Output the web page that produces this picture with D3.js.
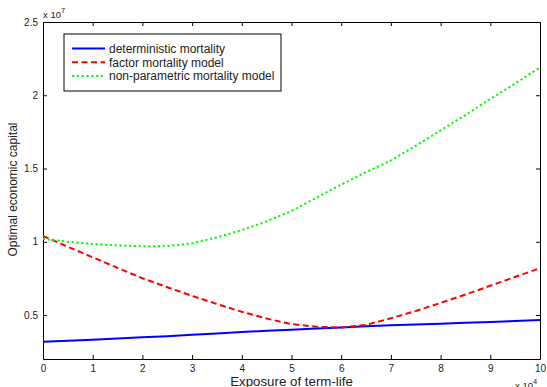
<!DOCTYPE html>
<html>
<head>
<meta charset="utf-8">
<script src="https://cdn.jsdelivr.net/npm/d3@7"></script>
<style>
  body { margin: 0; background: #fff; }
  svg text { font-family: "Liberation Sans", Arial, sans-serif; fill: #222; }
</style>
</head>
<body>
<div id="chart"></div>
<script>
// exposure (x 10^4) and capital (x 10^7)
const exposure = [0, 0.5, 1, 1.5, 2, 2.5, 3, 3.5, 4, 4.5, 5, 5.5, 6, 6.5, 7, 7.5, 8, 8.5, 9, 9.5, 10];
const deterministic = [0.318, 0.325, 0.332, 0.340, 0.348, 0.356, 0.365, 0.374, 0.384, 0.392, 0.400, 0.408, 0.415, 0.423, 0.430, 0.436, 0.441, 0.447, 0.453, 0.459, 0.467];
const factorModel = [1.04, 0.966, 0.894, 0.822, 0.751, 0.690, 0.631, 0.575, 0.522, 0.476, 0.438, 0.420, 0.415, 0.433, 0.478, 0.528, 0.583, 0.640, 0.700, 0.760, 0.820];
const nonParametric = [1.02, 1.00, 0.985, 0.975, 0.970, 0.970, 0.990, 1.030, 1.080, 1.140, 1.210, 1.300, 1.390, 1.475, 1.555, 1.655, 1.760, 1.865, 1.975, 2.080, 2.190];

const xTicks = [0, 1, 2, 3, 4, 5, 6, 7, 8, 9, 10];
const xTickLabels = ['0', '1', '2', '3', '4', '5', '6', '7', '8', '9', '10'];
const yTicks = [0.5, 1, 1.5, 2, 2.5];
const yTickLabels = ['0.5', '1', '1.5', '2', '2.5'];

const seriesNames = ['deterministic mortality', 'factor mortality model', 'non-parametric mortality model'];
const series = [
  { name: seriesNames[0], values: deterministic, color: '#0000ff', dash: null },
  { name: seriesNames[1], values: factorModel, color: '#ff0000', dash: '6,3.5' },
  { name: seriesNames[2], values: nonParametric, color: '#00ff00', dash: '2.2,2.6' },
];

const W = 547, H = 387;
const margin = { top: 22, right: 7, bottom: 28, left: 43 };
const width = W - margin.left - margin.right;
const height = H - margin.top - margin.bottom;

const svg = d3.select('#chart').append('svg')
  .attr('width', W)
  .attr('height', H);

const g = svg.append('g')
  .attr('transform', `translate(${margin.left},${margin.top})`);

const x = d3.scaleLinear().domain([0, 10]).range([0, width]);
const y = d3.scaleLinear().domain([0.2, 2.5]).range([height, 0]);

// Axes, matlab style box with inward ticks
const fmt = (labels, ticks) => (d) => labels[ticks.indexOf(d)];

g.append('g')
  .attr('transform', `translate(0,${height})`)
  .call(d3.axisBottom(x).tickValues(xTicks).tickFormat(fmt(xTickLabels, xTicks))
    .tickSizeInner(-4).tickSizeOuter(0).tickPadding(6));

g.append('g')
  .call(d3.axisLeft(y).tickValues(yTicks).tickFormat(fmt(yTickLabels, yTicks))
    .tickSizeInner(-4).tickSizeOuter(0).tickPadding(5));

g.append('g')
  .call(d3.axisTop(x).tickValues(xTicks).tickFormat('').tickSizeInner(-4).tickSizeOuter(0));

g.append('g')
  .attr('transform', `translate(${width},0)`)
  .call(d3.axisRight(y).tickValues(yTicks).tickFormat('').tickSizeInner(-4).tickSizeOuter(0));

g.selectAll('.domain').attr('stroke', '#000').attr('stroke-width', 1);
g.selectAll('.tick line').attr('stroke', '#000');
g.selectAll('.tick text').style('font-size', '10px').attr('fill', '#222');

// Lines
const line = d3.line()
  .x((d, i) => x(exposure[i]))
  .y(d => y(d));

g.selectAll('.series')
  .data(series)
  .enter()
  .append('path')
  .attr('class', 'series')
  .attr('fill', 'none')
  .attr('stroke', d => d.color)
  .attr('stroke-width', 2)
  .attr('stroke-dasharray', d => d.dash)
  .attr('d', d => line(d.values));

// Legend
const legend = svg.append('g').attr('transform', 'translate(64,34)');
legend.append('rect')
  .attr('width', 217)
  .attr('height', 57)
  .attr('fill', '#fff')
  .attr('stroke', '#000')
  .attr('stroke-width', 1);

const item = legend.selectAll('.item')
  .data(series)
  .enter()
  .append('g')
  .attr('transform', (d, i) => `translate(0,${14.5 + i * 13.8})`);

item.append('line')
  .attr('x1', 8).attr('x2', 41)
  .attr('stroke', d => d.color)
  .attr('stroke-width', 2)
  .attr('stroke-dasharray', d => d.dash);

item.append('text')
  .attr('x', 45)
  .attr('dy', '0.35em')
  .style('font-size', '12px')
  .text(d => d.name);

// Axis labels and exponents
svg.append('text')
  .attr('x', margin.left + width / 2)
  .attr('y', 385.5)
  .attr('text-anchor', 'middle')
  .style('font-size', '13.3px')
  .text('Exposure of term-life');

svg.append('text')
  .attr('transform', `translate(17,${margin.top + height / 2 - 1}) rotate(-90)`)
  .attr('text-anchor', 'middle')
  .style('font-size', '12px')
  .text('Optimal economic capital');

const expY = svg.append('text')
  .attr('x', 43)
  .attr('y', 18)
  .style('font-size', '9.5px');
expY.append('tspan').text('x 10');
expY.append('tspan').attr('dy', -5).style('font-size', '7.5px').text('7');

const expX = svg.append('text')
  .attr('x', 515)
  .attr('y', 389)
  .style('font-size', '9.5px');
expX.append('tspan').text('x 10');
expX.append('tspan').attr('dy', -5).style('font-size', '7.5px').text('4');
</script>
</body>
</html>
